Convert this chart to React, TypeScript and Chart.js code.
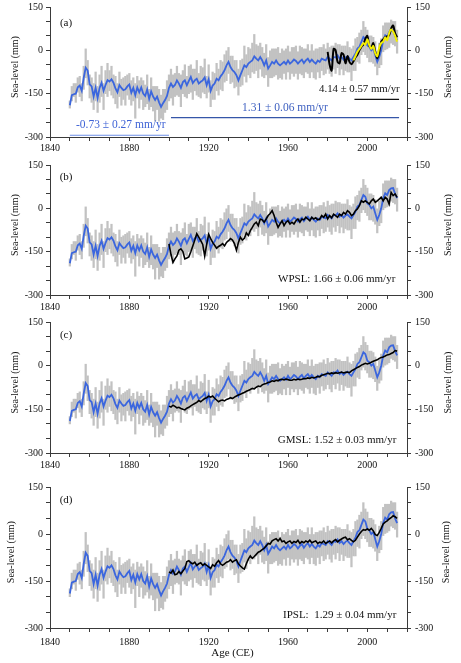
import React, { useEffect, useRef } from 'react';
import { Chart, registerables } from 'chart.js';

Chart.register(...registerables);

// ---------------- DATA ----------------
const FIRST_YEAR = 1850;

// Reconstructed sea level (blue), 1850-2015, mm
const reconBlue = [
  -190, -155, -152, -150, -128, -122, -140, -95, -60, -70,
  -118, -125, -160, -130, -165, -130, -112, -140, -120, -103,
  -108, -100, -112, -132, -145, -120, -130, -138, -135, -125,
  -118, -147, -130, -155, -128, -145, -128, -150, -158, -135,
  -168, -142, -160, -172, -160, -180, -196, -183, -172, -158,
  -130, -115, -127, -120, -104, -115, -130, -110, -104, -121,
  -106, -92, -113, -104, -98, -115, -109, -104, -94, -121,
  -100, -140, -122, -115, -98, -104, -90, -81, -69, -52,
  -40, -58, -69, -75, -86, -104, -86, -69, -52, -58,
  -46, -40, -35, -21, -29, -35, -23, -35, -52, -35,
  -63, -52, -40, -46, -35, -46, -52, -46, -40, -48,
  -35, -46, -40, -32, -37, -46, -38, -32, -44, -35,
  -29, -40, -32, -40, -46, -35, -40, -29, -32, -35,
  -23, -29, -35, -23, -25, -17, -29, -23, -32, -25,
  -21, -29, -35, -23, -12, 6, 12, 29, 46, 40,
  17, 12, 0, 6, -17, -40, -23, 0, 35, 52,
  46, 63, 69, 70, 50, 35,
];

// Uncertainty range (gray bars), 1850-2015, mm
const grayLow = [
  -200, -175, -160, -180, -145, -160, -175, -135, -95, -120,
  -165, -180, -205, -175, -215, -180, -160, -205, -150, -160,
  -140, -155, -165, -185, -200, -160, -190, -170, -190, -155,
  -170, -190, -175, -235, -165, -200, -170, -205, -195, -185,
  -205, -195, -210, -245, -205, -245, -235, -240, -215, -205,
  -175, -165, -190, -160, -155, -160, -195, -150, -160, -165,
  -150, -145, -170, -140, -155, -160, -165, -145, -150, -165,
  -145, -195, -170, -170, -140, -155, -135, -140, -110, -105,
  -80, -115, -110, -130, -125, -155, -125, -120, -90, -110,
  -85, -95, -75, -80, -70, -95, -65, -90, -95, -85,
  -125, -95, -95, -90, -85, -100, -95, -100, -80, -100,
  -75, -100, -80, -90, -80, -100, -80, -85, -95, -75,
  -80, -95, -75, -95, -100, -75, -95, -70, -85, -80,
  -65, -80, -90, -65, -80, -60, -85, -65, -85, -70,
  -75, -75, -105, -70, -70, -40, -45, -15, -5, -15,
  -25, -40, -40, -45, -55, -85, -60, -50, -5, 0,
  5, 10, 25, 20, 15, -10,
];
const grayHigh = [
  -175, -125, -115, -115, -95, -90, -115, -55, 5, -35,
  -85, -95, -115, -75, -125, -85, -55, -115, -70, -45,
  -70, -55, -85, -90, -115, -75, -100, -95, -90, -85,
  -80, -105, -95, -115, -90, -105, -95, -105, -120, -85,
  -135, -95, -125, -125, -125, -135, -155, -135, -135, -105,
  -85, -65, -85, -80, -55, -80, -85, -70, -50, -90,
  -55, -50, -65, -65, -35, -80, -55, -60, -30, -90,
  -50, -105, -75, -80, -45, -65, -35, -40, -15, 0,
  10, -20, -20, -35, -35, -65, -35, -30, 15, -15,
  10, 5, 25, 55, 20, 15, 25, 10, -10, 20,
  -25, 0, 5, 5, 5, 10, -10, 5, 0, 5,
  15, -5, 10, 10, 15, -5, 15, 10, 5, 5,
  20, 0, 20, 0, 5, 5, 10, 10, 20, 5,
  25, 10, 15, 15, 25, 20, 20, 15, 15, 15,
  30, 10, 5, 15, 40, 45, 60, 70, 100, 80,
  70, 50, 50, 45, 30, 0, 25, 40, 85, 95,
  95, 95, 105, 100, 100, 70,
];

// Panel (a): local tide gauge (black) from 1980, altimetry (yellow) from 1993
const blackAStart = 1980;
const blackA = [
  -5, -50, -70, 5, 0, -40, -45, -10, -15, -45,
  -20, -40, -48, -38, -25, -15, 0, 12, 20, 40,
  50, 15, 10, 25, -5, -28, -5, 30, 38, 45,
  48, 52, 75, 86, 60, 45,
];
const yellowAStart = 1993;
const yellowA = [
  -35, -20, -5, 5, 15, 25, 20, 38, 18, 5,
  15, -10, -20, 10, 25, 30, 45, 35, 60, 72,
  65, 50, 30,
];

// Panel (b): WPSL, 1900-2015
const seriesStart = 1900;
const blackB = [
  -123, -160, -187, -175, -165, -145, -140, -150, -175, -172,
  -168, -150, -130, -110, -88, -100, -112, -125, -165, -125,
  -90, -105, -118, -128, -138, -132, -128, -122, -130, -118,
  -112, -105, -110, -122, -145, -118, -100, -110, -104, -85,
  -94, -77, -66, -54, -48, -60, -37, -40, -48, -37,
  -25, -18, -8, -25, -48, -66, -54, -43, -60, -48,
  -43, -54, -48, -54, -43, -37, -48, -37, -40, -31,
  -37, -43, -31, -37, -33, -40, -37, -25, -31, -20,
  -37, -25, -33, -20, -25, -31, -20, -25, -14, -20,
  -8, -14, -25, -20, -8, -2, 9, 26, 21, 26,
  21, 15, 26, 32, 21, 26, 32, 38, 26, 38,
  32, 15, 55, 44, 50, 38,
];
// Panel (c): GMSL, 1900-2015
const blackC = [
  -139, -142, -136, -140, -145, -143, -147, -150, -152, -146,
  -143, -138, -134, -130, -126, -120, -124, -118, -113, -110,
  -105, -108, -104, -112, -118, -124, -120, -118, -121, -116,
  -114, -110, -113, -108, -104, -101, -98, -95, -92, -88,
  -85, -82, -78, -80, -74, -70, -72, -66, -63, -61,
  -58, -56, -52, -54, -50, -52, -48, -47, -49, -46,
  -48, -50, -50, -47, -49, -46, -48, -47, -44, -45,
  -42, -44, -40, -42, -40, -37, -38, -33, -31, -29,
  -26, -28, -25, -27, -24, -26, -24, -22, -25, -23,
  -22, -24, -18, -14, -10, -6, -3, 2, 5, 8,
  6, 8, 12, 15, 18, 20, 25, 28, 30, 33,
  37, 38, 42, 45, 52, 50,
];
// Panel (d): IPSL, 1900-2015
const blackD = [
  -121, -125, -115, -130, -128, -120, -127, -118, -110, -88,
  -85, -92, -95, -90, -100, -95, -92, -100, -95, -100,
  -105, -110, -98, -103, -92, -85, -95, -100, -95, -90,
  -88, -82, -90, -85, -82, -95, -102, -108, -112, -95,
  -80, -70, -78, -72, -65, -58, -55, -50, -45, -38,
  -30, -32, -22, -18, -15, -22, -14, -25, -22, -30,
  -25, -22, -30, -24, -27, -20, -30, -24, -28, -22,
  -26, -20, -28, -25, -22, -30, -26, -28, -22, -30,
  -26, -22, -28, -22, -18, -25, -20, -16, -12, -10,
  -18, -15, -20, -25, -20, -10, 0, 8, 14, 12,
  16, 12, 18, 10, -2, -5, 5, 18, 32, 38,
  42, 48, 52, 58, 55, 50,
];

// Fitted-period indicator lines in panel (a): [startYear, endYear, level]
const trendEarly = [1850, 1900, -294];
const trendLate = [1901, 2016, -233];
const trendAlt = [1993.5, 2016, -170];

const xTickLabels = [1840, 1880, 1920, 1960, 2000];
const yTickLabels = [-300, -150, 0, 150];

// ---------------- STYLE ----------------
const FONT = '"Liberation Serif", "Times New Roman", serif';
const AXIS = '#3a3a3a';
const BLUE = '#3b66de';
const GRAY = '#c2c2c2';

const toPts = (start: number, vals: number[]) => vals.map((v, i) => ({ x: start + i, y: v }));

type Txt = { text: string; x: number; y: number; color: string; size: number; align: CanvasTextAlign };

function makeTextPlugin(items: Txt[], titleXs: number[], xTitle: boolean) {
  return {
    id: 'panelText',
    afterDraw(chart: any) {
      const { ctx, scales, chartArea } = chart;
      const xs = scales.x;
      const ys = scales.y;
      ctx.save();
      ctx.textBaseline = 'middle';
      for (const t of items) {
        ctx.font = `${t.size}px ${FONT}`;
        ctx.fillStyle = t.color;
        ctx.textAlign = t.align;
        ctx.fillText(t.text, xs.getPixelForValue(t.x), ys.getPixelForValue(t.y));
      }
      ctx.font = `10px ${FONT}`;
      ctx.fillStyle = '#111';
      ctx.textAlign = 'center';
      const yc = ys.getPixelForValue(-58);
      for (const tx of titleXs) {
        ctx.save();
        ctx.translate(tx, yc);
        ctx.rotate(-Math.PI / 2);
        ctx.fillText('Sea-level (mm)', 0, 0);
        ctx.restore();
      }
      if (xTitle) {
        ctx.font = `11px ${FONT}`;
        ctx.fillText('Age (CE)', xs.getPixelForValue(1932), chartArea.bottom + 25);
      }
      ctx.restore();
    },
  };
}

function baseDatasets(): any[] {
  const years = reconBlue.map((_, i) => FIRST_YEAR + i);
  return [
    {
      type: 'bar',
      data: years.map((yr, i) => ({ x: yr, y: [grayLow[i], grayHigh[i]] })),
      backgroundColor: GRAY,
      borderWidth: 0,
      barThickness: 1.6,
      order: 20,
    },
    {
      type: 'line',
      data: toPts(FIRST_YEAR, reconBlue),
      borderColor: BLUE,
      borderWidth: 1.8,
      pointRadius: 0,
      tension: 0,
      order: 10,
    },
  ];
}

function lineDs(data: { x: number; y: number }[], color: string, width: number, order: number, tension = 0) {
  return { type: 'line', data, borderColor: color, borderWidth: width, pointRadius: 0, tension, order };
}

function segment(t: number[]) {
  return [
    { x: t[0], y: t[2] },
    { x: t[1], y: t[2] },
  ];
}

type PanelProps = {
  top: number;
  height: number;
  padTop: number;
  axisH: number;
  labelPad: number;
  datasets: any[];
  texts: Txt[];
  titleXs: number[];
  xTitle?: boolean;
};

function Panel(p: PanelProps) {
  const ref = useRef<HTMLCanvasElement>(null);
  useEffect(() => {
    const tickFont = { family: FONT, size: 10 };
    const yTicks = (v: any) => (yTickLabels.includes(Number(v)) ? String(v) : '');
    const chart = new Chart(ref.current as HTMLCanvasElement, {
      type: 'bar',
      data: { datasets: p.datasets },
      options: {
        animation: false,
        responsive: false,
        devicePixelRatio: 1,
        layout: { padding: { top: p.padTop, left: 0, right: 0, bottom: 0 } },
        plugins: { legend: { display: false }, tooltip: { enabled: false } },
        scales: {
          x: {
            type: 'linear',
            min: 1840,
            max: 2020,
            offset: false,
            grid: { drawOnChartArea: false, tickLength: 4, color: AXIS, offset: false },
            border: { color: AXIS, width: 1 },
            ticks: {
              stepSize: 10,
              autoSkip: false,
              maxRotation: 0,
              padding: p.labelPad,
              color: '#111',
              font: tickFont,
              callback: (v: any) => (xTickLabels.includes(Number(v)) ? String(v) : ''),
            },
            afterFit: (s: any) => {
              s.height = p.axisH;
            },
          },
          y: {
            type: 'linear',
            position: 'left',
            min: -300,
            max: 150,
            grid: { drawOnChartArea: false, tickLength: 4, color: AXIS },
            border: { color: AXIS, width: 1 },
            ticks: { stepSize: 50, autoSkip: false, padding: 3, color: '#111', font: tickFont, callback: yTicks },
            afterFit: (s: any) => {
              s.width = 50;
            },
          },
          y2: {
            type: 'linear',
            position: 'right',
            min: -300,
            max: 150,
            grid: { drawOnChartArea: false, tickLength: 4, color: AXIS },
            border: { color: AXIS, width: 1 },
            ticks: { stepSize: 50, autoSkip: false, padding: 4, color: '#111', font: tickFont, callback: yTicks },
            afterFit: (s: any) => {
              s.width = 54;
            },
          },
        },
      } as any,
      plugins: [makeTextPlugin(p.texts, p.titleXs, !!p.xTitle)],
    } as any);
    return () => chart.destroy();
  }, []);
  return (
    <canvas
      ref={ref}
      width={461}
      height={p.height}
      style={{ position: 'absolute', left: 0, top: p.top, width: 461, height: p.height }}
    />
  );
}

export default function App() {
  const panelA = [
    ...baseDatasets(),
    lineDs(toPts(blackAStart, blackA), '#000', 2, 4, 0.3),
    lineDs(toPts(yellowAStart, yellowA), '#f2ee00', 2, 2, 0.3),
    lineDs(segment(trendEarly), '#6d8fe8', 1.2, 3),
    lineDs(segment(trendLate), '#3556a8', 1.2, 3),
    lineDs(segment(trendAlt), '#111', 1.2, 3),
  ];
  const panelB = [...baseDatasets(), lineDs(toPts(seriesStart, blackB), '#000', 1.6, 4)];
  const panelC = [...baseDatasets(), lineDs(toPts(seriesStart, blackC), '#000', 1.6, 4)];
  const panelD = [...baseDatasets(), lineDs(toPts(seriesStart, blackD), '#000', 1.6, 4)];

  return (
    <div style={{ position: 'absolute', left: 0, top: 0, width: 461, height: 663, overflow: 'hidden', background: '#fff' }}>
      <Panel
        top={-5}
        height={164}
        padTop={12}
        axisH={22}
        labelPad={1}
        datasets={panelA}
        titleXs={[15, 448]}
        texts={[
          { text: '(a)', x: 1848.1, y: 93, color: '#111', size: 11, align: 'center' },
          { text: '-0.73 \u00b1 0.27 mm/yr', x: 1875.7, y: -259, color: '#3f63d6', size: 11.5, align: 'center' },
          { text: '1.31 \u00b1 0.06 mm/yr', x: 1958.5, y: -198, color: '#3d5fc0', size: 11.5, align: 'center' },
          { text: '4.14 \u00b1 0.57 mm/yr', x: 1996, y: -136, color: '#111', size: 10.8, align: 'center' },
        ]}
      />
      <Panel
        top={153}
        height={164}
        padTop={12}
        axisH={22}
        labelPad={2}
        datasets={panelB}
        titleXs={[15, 448]}
        texts={[
          { text: '(b)', x: 1848.1, y: 107, color: '#111', size: 11, align: 'center' },
          { text: 'WPSL: 1.66 \u00b1 0.06 mm/yr', x: 2014.1, y: -244, color: '#111', size: 11, align: 'right' },
        ]}
      />
      <Panel
        top={310}
        height={165}
        padTop={12}
        axisH={22}
        labelPad={2}
        datasets={panelC}
        titleXs={[15, 448]}
        texts={[
          { text: '(c)', x: 1848.1, y: 106, color: '#111', size: 11, align: 'center' },
          { text: 'GMSL: 1.52 \u00b1 0.03 mm/yr', x: 2014.6, y: -257, color: '#111', size: 11, align: 'right' },
        ]}
      />
      <Panel
        top={475}
        height={188}
        padTop={12}
        axisH={35}
        labelPad={4}
        datasets={panelD}
        titleXs={[11, 446]}
        xTitle
        texts={[
          { text: '(d)', x: 1848.1, y: 108, color: '#111', size: 11, align: 'center' },
          { text: 'IPSL:  1.29 \u00b1 0.04 mm/yr', x: 2014.6, y: -258, color: '#111', size: 11, align: 'right' },
        ]}
      />
    </div>
  );
}
